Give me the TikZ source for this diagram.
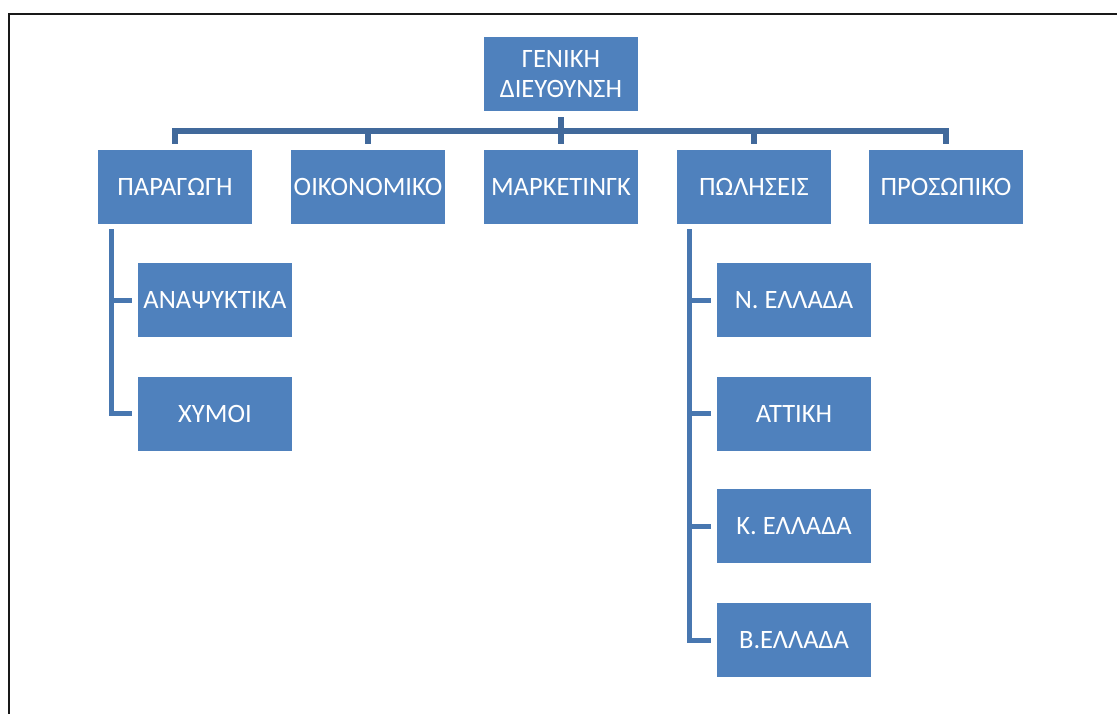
\documentclass[tikz,border=0pt]{standalone}
\usepackage{fontspec}
\setmainfont{Carlito}
\usetikzlibrary{calc}
\definecolor{boxblue}{HTML}{4F81BD}
\definecolor{busblue}{HTML}{41699B}
\definecolor{linkblue}{HTML}{4877B0}
\begin{document}
\begin{tikzpicture}[x=1pt,y=-1pt,
  unit/.style={fill=boxblue, text=white, minimum width=154pt, minimum height=74pt,
    inner sep=0pt, align=center, font=\fontsize{26.5}{30}\selectfont},
  busline/.style={draw=busblue, line width=6pt, line join=miter},
  linkline/.style={draw=linkblue, line width=5pt, line join=miter}]
\useasboundingbox (0,0) rectangle (1117,714);
\fill[white] (0,0) rectangle (1117,714);
% page frame
\draw[black!90, line width=2pt] (9,714) -- (9,14.5) -- (1117,14.5);

% head office
\node[unit] (top) at (561,74) {ΓΕΝΙΚΗ\\ΔΙΕΥΘΥΝΣΗ};

% departments
\node[unit] (prod) at (175,187) {ΠΑΡΑΓΩΓΗ};
\node[unit] (oik)  at (368,187) {ΟΙΚΟΝΟΜΙΚΟ};
\node[unit] (mkt)  at (561,187) {ΜΑΡΚΕΤΙΝΓΚ};
\node[unit] (sales) at (754,187) {ΠΩΛΗΣΕΙΣ};
\node[unit] (pros) at (946,187) {ΠΡΟΣΩΠΙΚΟ};

% production sections
\node[unit] (ana) at (215,300) {ΑΝΑΨΥΚΤΙΚΑ};
\node[unit] (hym) at (215,413.5) {ΧΥΜΟΙ};

% sales regions
\node[unit] (nel) at (794,300) {Ν. ΕΛΛΑΔΑ};
\node[unit] (att) at (794,413.5) {ΑΤΤΙΚΗ};
\node[unit] (kel) at (794,526) {Κ. ΕΛΛΑΔΑ};
\node[unit] (bel) at (794,640) {Β.ΕΛΛΑΔΑ};

% bus below the head office
\coordinate (bus) at (561,131);
\draw[busline] ($(prod.north)+(0,-6)$) |- (bus) -| ($(pros.north)+(0,-6)$);
\draw[busline] ($(top.south)+(0,6)$) -- ($(mkt.north)+(0,-6)$);
\draw[busline] ($(oik.north)+(0,-6)$) -- (oik.north |- bus);
\draw[busline] ($(sales.north)+(0,-6)$) -- (sales.north |- bus);

% production tree
\coordinate (pv) at ($(prod.south west)+(13.5,5)$);
\draw[linkline] (pv) |- ($(hym.west)+(-6,0)$);
\draw[linkline] (pv |- ana.west) -- ($(ana.west)+(-6,0)$);

% sales tree
\coordinate (sv) at ($(sales.south west)+(13,5)$);
\draw[linkline] (sv) |- ($(bel.west)+(-6,0)$);
\draw[linkline] (sv |- nel.west) -- ($(nel.west)+(-6,0)$);
\draw[linkline] (sv |- att.west) -- ($(att.west)+(-6,0)$);
\draw[linkline] (sv |- kel.west) -- ($(kel.west)+(-6,0)$);
\end{tikzpicture}
\end{document}
